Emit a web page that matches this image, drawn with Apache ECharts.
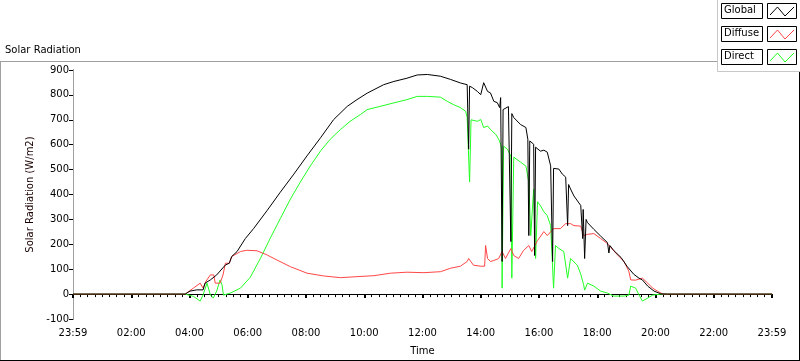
<!DOCTYPE html>
<html>
<head>
<meta charset="utf-8">
<script src="https://cdn.jsdelivr.net/npm/echarts@6/dist/echarts.min.js"></script>
<style>
html,body{margin:0;padding:0;background:#fff;}
#chart{width:800px;height:361px;}
</style>
</head>
<body>
<div id="chart"></div>
<script>
// ---- data (minutes since start of day, W/m2) ----
const seriesNames = ['Global', 'Diffuse', 'Direct'];
const xTickLabels = ['23:59','02:00','04:00','06:00','08:00','10:00','12:00','14:00','16:00','18:00','20:00','22:00','23:59'];

const globalTime = [0,231,241,255,268,272,283,296,314,322,327,338,355,372,400,427,455,482,510,537,
  565,585,606,620,640,661,688,709,730,757,778,798,812,813,815,817,823,833,840,846,
  850,854,860,867,874,879,881,884,886,897,902,904,908,922,933,937,939,941,943,949,
  951,953,957,963,970,977,984,988,990,994,1001,1008,1015,1019,1021,1025,1032,1046,1050,1051,
  1054,1057,1060,1073,1087,1101,1104,1106,1114,1129,1142,1155,1166,1173,1184,1197,1211,1225,1440];
const globalValue = [0,0,12,17,17,44,57,77,117,124,151,171,223,263,336,409,482,555,628,701,
  754,781,807,821,841,854,867,880,882,875,862,848,841,838,582,835,829,814,801,849,
  856,814,808,774,769,749,789,131,741,753,211,725,709,681,669,622,235,615,610,602,
  155,590,582,574,578,570,515,131,505,502,502,482,470,275,440,422,394,356,223,340,
  143,300,287,260,233,207,165,195,175,147,110,80,64,57,32,12,1,0,0];

const diffuseTime = [0,231,248,262,268,274,283,290,293,303,309,314,322,327,345,358,379,400,420,448,
  482,516,551,585,620,654,688,723,757,778,798,812,815,825,840,848,850,854,860,867,
  877,884,891,902,908,918,928,939,945,957,970,977,990,1004,1015,1025,1032,1046,1052,1060,
  1073,1087,1101,1108,1122,1135,1145,1149,1159,1166,1173,1184,1194,1204,1215,1440];
const diffuseValue = [0,0,24,44,24,52,77,77,44,44,77,124,124,151,171,176,174,157,137,110,
  84,73,66,70,74,84,88,86,90,104,112,131,143,116,112,112,195,143,131,135,
  143,171,143,183,155,143,175,195,171,215,251,235,263,263,283,283,275,273,235,240,
  243,223,203,187,157,131,92,57,56,60,64,44,24,12,0,0];

const directTime = [0,231,248,262,268,276,283,289,296,303,307,310,324,345,365,386,406,427,448,468,
  489,510,530,551,571,592,606,633,661,688,709,730,757,771,784,798,809,812,817,820,
  823,833,840,846,854,860,871,877,881,883,884,887,895,902,904,908,922,933,939,943,
  949,953,957,963,970,977,984,990,994,1001,1011,1019,1025,1039,1046,1052,1054,1060,1073,1087,
  1101,1114,1135,1145,1149,1153,1159,1166,1173,1184,1194,1211,1440];
const directValue = [0,0,-9,-28,-3,44,-3,-16,12,57,37,-4,4,24,67,143,223,303,382,449,
  515,575,622,661,694,721,741,754,768,781,794,794,791,774,761,749,734,709,450,700,
  701,694,701,669,675,661,641,622,602,582,24,594,582,554,64,550,530,514,450,235,
  422,143,371,355,331,315,275,24,195,183,171,64,143,116,80,37,16,44,32,12,
  4,-8,-8,-4,32,36,24,-3,-28,-16,-4,0,0];

const seriesColors = {Global: '#000000', Diffuse: '#ff4646', Direct: '#22ff22'};

function zip(t, v) { return t.map((x, i) => [x, v[i]]); }

const FONT = 'DejaVu Sans';
const chart = echarts.init(document.getElementById('chart'), null, {renderer: 'canvas'});

function legendItem(name, top) {
  const c = seriesColors[name];
  return [
    {type: 'rect', z: 20, shape: {x: 721.5, y: top + 0.5, width: 41, height: 15}, style: {fill: '#fff', stroke: '#000', lineWidth: 1}},
    {type: 'text', z: 21, x: 724, y: top + 2, style: {text: name, fontFamily: FONT, fontSize: 10, fill: '#000'}},
    {type: 'rect', z: 20, shape: {x: 767.5, y: top + 0.5, width: 29, height: 15}, style: {fill: '#fff', stroke: '#000', lineWidth: 1}},
    {type: 'polyline', z: 21, shape: {points: [[770, top + 12], [777.5, top + 4], [785, top + 13], [794, top + 4]]}, style: {stroke: c, lineWidth: 1, fill: null}}
  ];
}

const graphics = [
  // outer panel border
  {type: 'line', z: 5, shape: {x1: 0, y1: 61.5, x2: 800, y2: 61.5}, style: {stroke: '#a0a0a0', lineWidth: 1}},
  {type: 'line', z: 5, shape: {x1: 0.5, y1: 61, x2: 0.5, y2: 361}, style: {stroke: '#a0a0a0', lineWidth: 1}},
  {type: 'line', z: 5, shape: {x1: 0, y1: 360.5, x2: 800, y2: 360.5}, style: {stroke: '#000', lineWidth: 1}},
  {type: 'line', z: 5, shape: {x1: 799.5, y1: 61, x2: 799.5, y2: 361}, style: {stroke: '#000', lineWidth: 1}},
  // title
  {type: 'text', z: 5, x: 5, y: 45, style: {text: 'Solar Radiation', fontFamily: FONT, fontSize: 10, fill: '#000'}},
  // legend panel
  {type: 'rect', z: 10, shape: {x: 717.5, y: -1, width: 90, height: 72.5}, style: {fill: '#fff', stroke: '#c8c8c8', lineWidth: 1}}
].concat(legendItem('Global', 3), legendItem('Diffuse', 26), legendItem('Direct', 49));

const option = {
  animation: false,
  backgroundColor: '#fff',
  textStyle: {fontFamily: FONT},
  grid: {left: 73, right: 28, top: 70, bottom: 39, containLabel: false},
  xAxis: [{
    type: 'value', min: 0, max: 1440, interval: 120,
    name: 'Time', nameLocation: 'middle', nameGap: 27,
    nameTextStyle: {fontFamily: FONT, fontSize: 10, color: '#000'},
    axisLine: {show: true, lineStyle: {color: '#a0a0a0', width: 1}},
    axisTick: {show: true, length: 4, lineStyle: {color: '#000', width: 2}},
    minorTick: {show: true, splitNumber: 8, length: 3, lineStyle: {color: '#000', width: 1}},
    splitLine: {show: false},
    axisLabel: {fontFamily: FONT, fontSize: 10, color: '#000', margin: 9,
      formatter: v => xTickLabels[Math.round(v / 120)]}
  }, {
    type: 'value', min: 0, max: 1440, position: 'top',
    axisLine: {show: true, lineStyle: {color: '#000', width: 1}},
    axisTick: {show: false}, axisLabel: {show: false}, splitLine: {show: false}
  }],
  yAxis: [{
    type: 'value', min: -100, max: 900, interval: 100,
    name: 'Solar Radiation (W/m2)', nameLocation: 'middle', nameGap: 37, nameRotate: 90,
    nameTextStyle: {fontFamily: FONT, fontSize: 10, color: '#1a0000'},
    axisLine: {show: true, lineStyle: {color: '#000', width: 1}},
    axisTick: {show: true, length: 4, lineStyle: {color: '#000', width: 1}},
    splitLine: {show: false},
    axisLabel: {fontFamily: FONT, fontSize: 10, color: '#000', margin: 4}
  }, {
    type: 'value', min: -100, max: 900, position: 'right',
    axisLine: {show: true, lineStyle: {color: '#a0a0a0', width: 1}},
    axisTick: {show: false}, axisLabel: {show: false}, splitLine: {show: false}
  }],
  series: [
    {name: 'Direct', type: 'line', data: zip(directTime, directValue), showSymbol: false,
      lineStyle: {color: seriesColors.Direct, width: 1}, itemStyle: {color: seriesColors.Direct}, z: 2},
    {name: 'Diffuse', type: 'line', data: zip(diffuseTime, diffuseValue), showSymbol: false,
      lineStyle: {color: seriesColors.Diffuse, width: 1}, itemStyle: {color: seriesColors.Diffuse}, z: 3},
    {name: 'Global', type: 'line', data: zip(globalTime, globalValue), showSymbol: false,
      lineStyle: {color: seriesColors.Global, width: 1}, itemStyle: {color: seriesColors.Global}, z: 4}
  ],
  graphic: graphics
};
chart.setOption(option);
</script>
</body>
</html>
